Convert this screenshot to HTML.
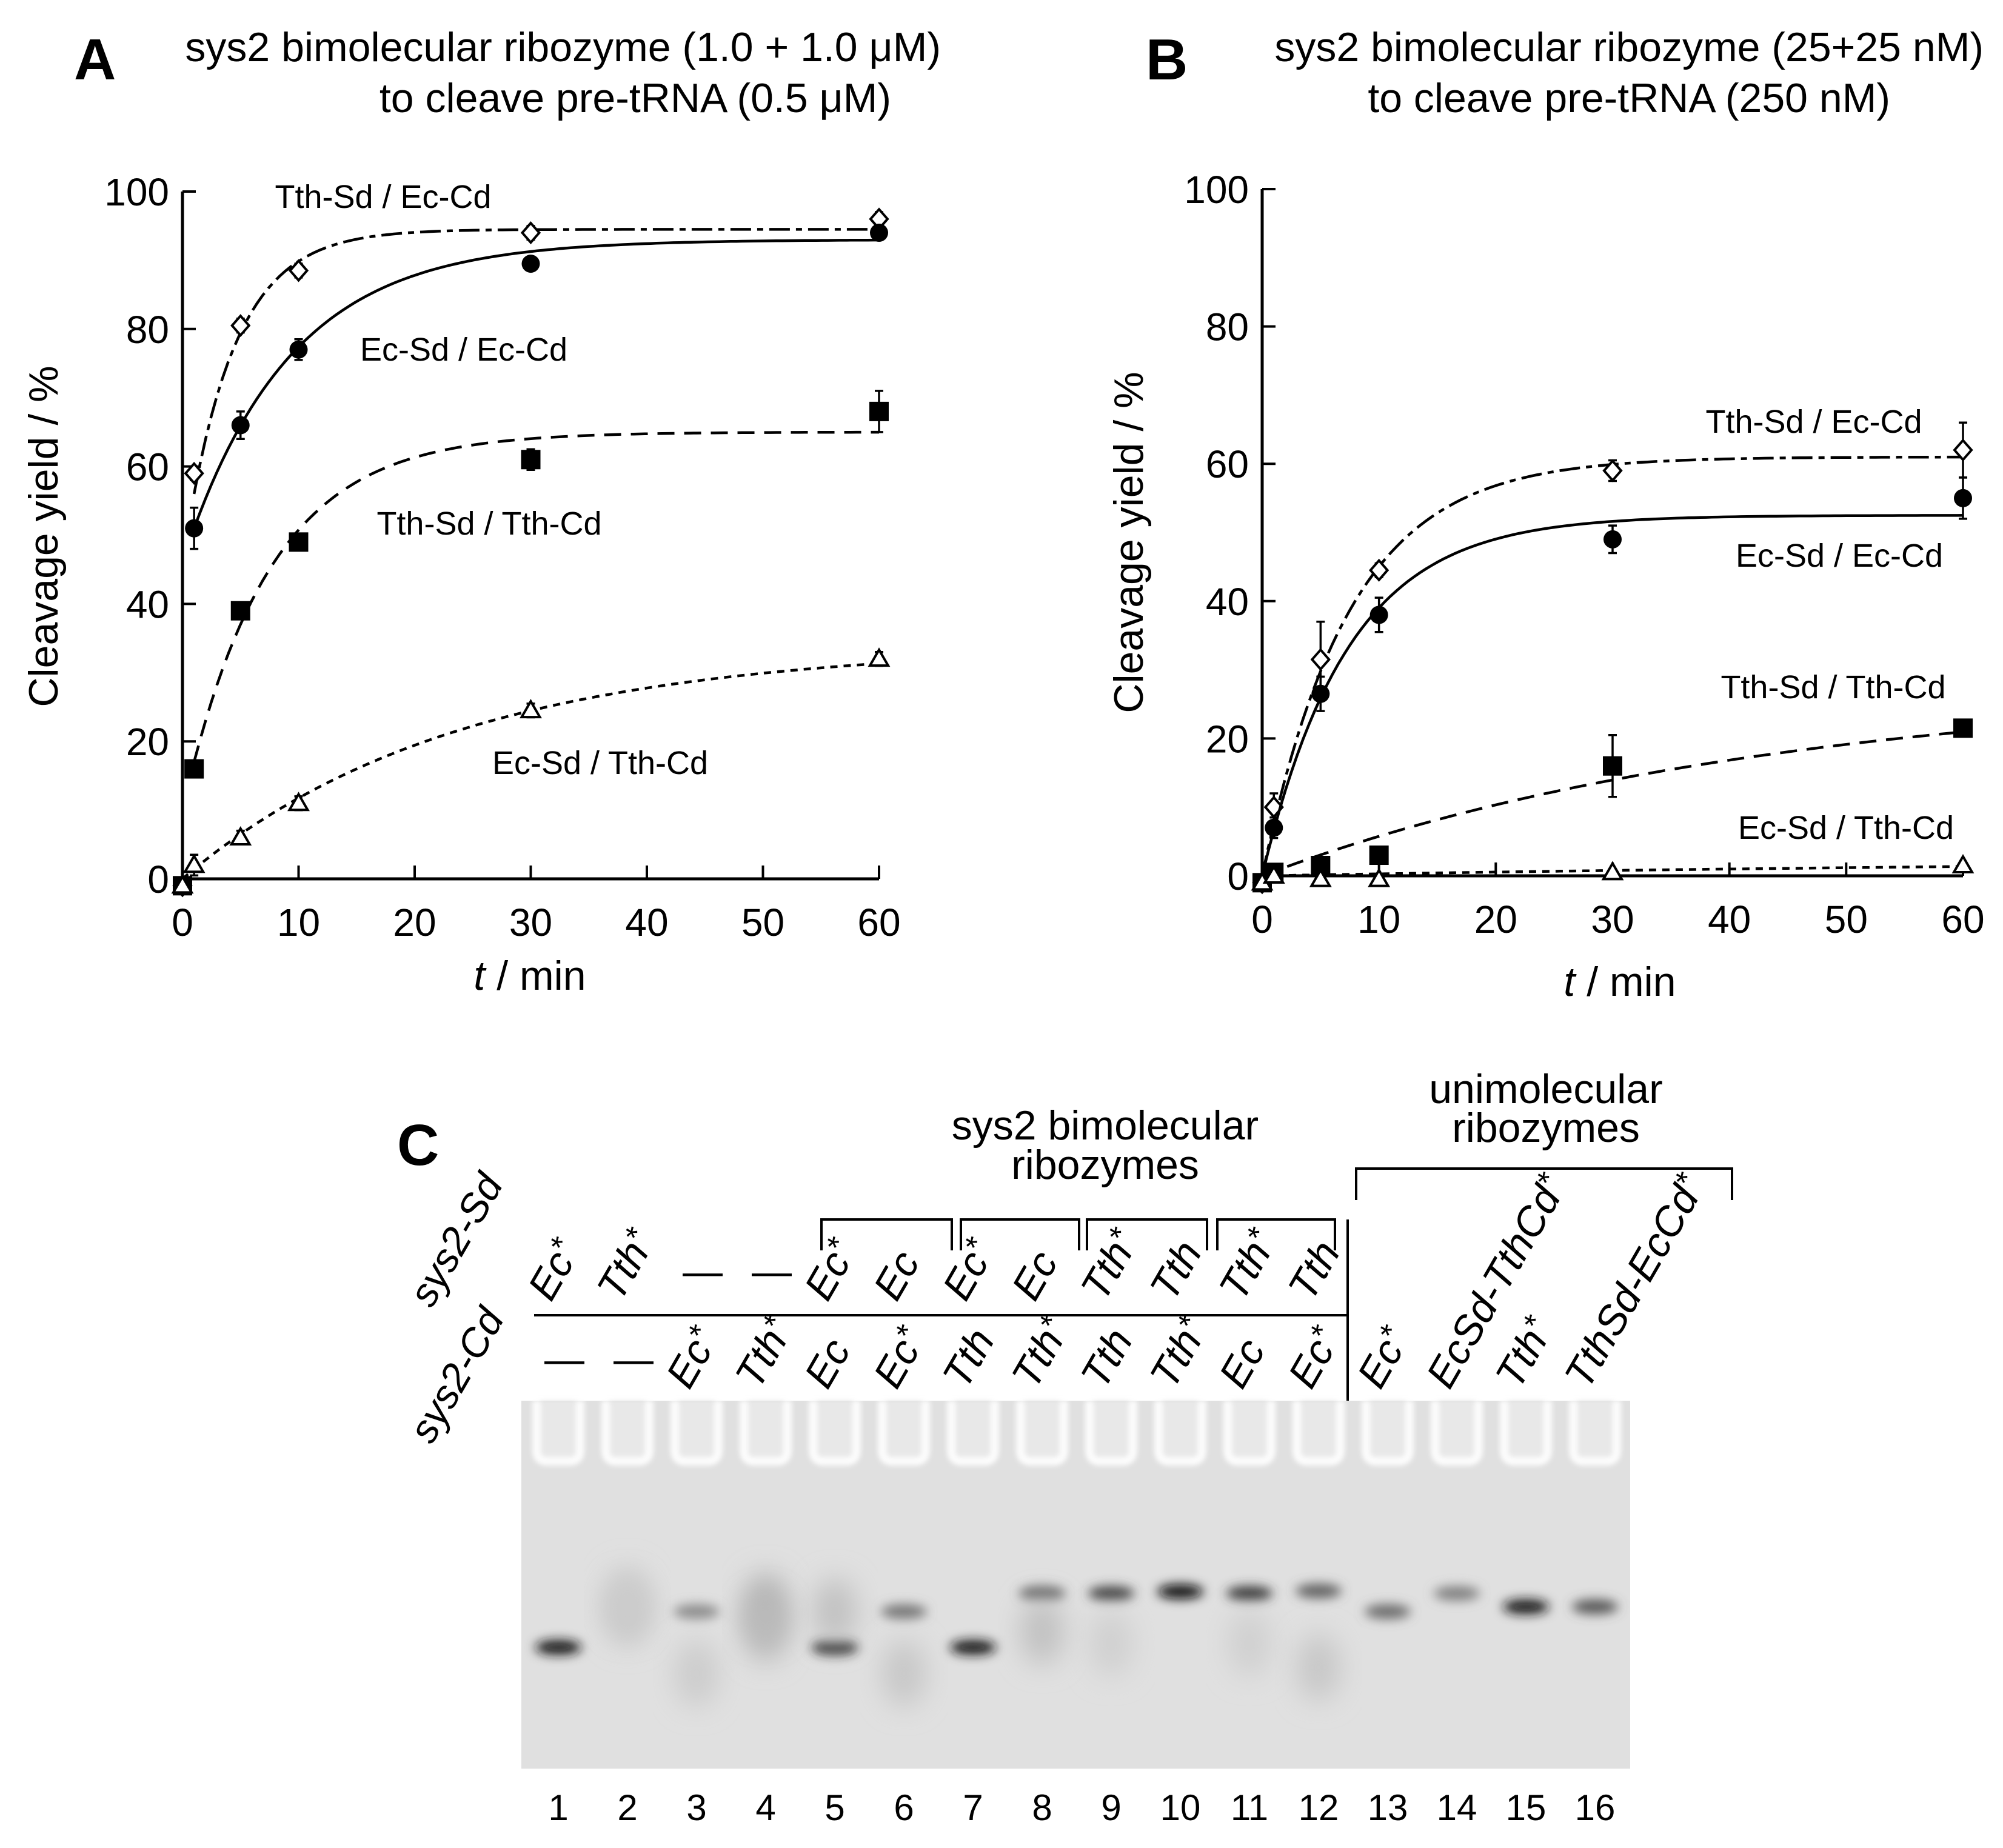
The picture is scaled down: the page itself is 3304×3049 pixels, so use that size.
<!DOCTYPE html>
<html><head><meta charset="utf-8"><style>
html,body{margin:0;padding:0;background:#fff}
svg{display:block;font-family:"Liberation Sans",Arial,sans-serif}
</style></head><body>
<svg id="fig" width="3304" height="3049" viewBox="0 0 3304 3049" xmlns="http://www.w3.org/2000/svg">
<defs>
<filter id="blur" x="-50%" y="-200%" width="200%" height="500%"><feGaussianBlur stdDeviation="9"/></filter>
<filter id="blur2" x="-50%" y="-200%" width="200%" height="500%"><feGaussianBlur stdDeviation="22"/></filter>
<filter id="blur3" x="-20%" y="-20%" width="140%" height="140%"><feGaussianBlur stdDeviation="4"/></filter>
</defs>
<g id="panelA"></g>
<g id="panelB"></g>
<g id="panelC"></g>
</svg>
<script>
const NS='http://www.w3.org/2000/svg';
// ---- chart data ----
const times=[1,5,10,30,60];
const xTicks=[0,10,20,30,40,50,60];
const yTicks=[0,20,40,60,80,100];
const seriesNames=['Tth-Sd / Ec-Cd','Ec-Sd / Ec-Cd','Tth-Sd / Tth-Cd','Ec-Sd / Tth-Cd'];
// Panel A values
const aDiamond=[59,80.5,88.5,94,96];
const aCircle=[51,66,77,89.5,94];
const aSquare=[16,39,49,61,68];
const aTriangle=[2,6,11,24.5,32];
const aErr=[[1,1,1,1,1],[3,2,1.5,1,1],[1,1,1,1.5,3],[1.5,1,1,1,1]];
// fit params [t0, y0, plateau, k]
const aFitDiamond=[1,56,94.5,0.235];
const aFitCircle=[1,51,93,0.11];
const aFitSquare=[1,17,65,0.135];
const aFitTriangle=[0,0,34,0.0424];
// Panel B values
const bDiamond=[10,31.5,44.5,59,62];
const bCircle=[7,26.5,38,49,55];
const bSquare=[0.5,1.5,3,16,21.5];
const bTriangle=[0,-0.5,-0.5,0.5,1.5];
const bErr=[[2,5.5,1,1.5,4],[1.5,2.5,2.5,2,3],[0.5,0.5,0.5,4.5,0.5],[0.3,0.3,0.3,0.3,0.3]];
const bFitDiamond=[0,0,61,0.134];
const bFitCircle=[0,0,52.5,0.136];
const bFitSquare=[0,0,28,0.023];
const bFitTriangle=[0,0,3,0.01];
// gel data
const laneNumbers=['1','2','3','4','5','6','7','8','9','10','11','12','13','14','15','16'];
const sdLabels=['Ec*','Tth*','—','—','Ec*','Ec','Ec*','Ec','Tth*','Tth','Tth*','Tth','','','',''];
const cdLabels=['—','—','Ec*','Tth*','Ec','Ec*','Tth','Tth*','Tth','Tth*','Ec','Ec*','Ec*','EcSd-TthCd*','Tth*','TthSd-EcCd*'];
const bandLane=[1,2,3,3,4,5,5,6,6,7,8,8,9,9,10,11,11,12,12,13,14,15,16,2,4];
const bandPos=[407,348,348,450,340,407,348,348,450,407,318,380,318,400,315,318,400,314,440,348,318,340,340,330,375];
const bandInt=[0.95,0.12,0.4,0.1,0.22,0.9,0.15,0.5,0.12,0.95,0.6,0.15,0.75,0.08,1.0,0.8,0.08,0.6,0.12,0.55,0.45,0.95,0.65,0.1,0.18];
const bandKind=[0,1,0,1,1,0,1,0,1,0,0,1,0,1,0,0,1,0,1,0,0,0,0,1,1];

function el(tag,attrs,parent,text){const e=document.createElementNS(NS,tag);for(const k in attrs)e.setAttribute(k,attrs[k]);if(text!==undefined)e.textContent=text;parent.appendChild(e);return e;}

function drawPanel(g,cfg){
  const X=t=>cfg.x0+(t/60)*(cfg.x60-cfg.x0);
  const Y=v=>cfg.y0-(v/100)*(cfg.y0-cfg.y100);
  let e;
  e=el('text',{x:cfg.letterX,y:131,'font-size':96,'font-weight':'bold'},g,cfg.letter);
  
  
  e=el('text',{x:cfg.t1x,y:101,'font-size':68,'text-anchor':'end'},g,cfg.title1);
  
  
  e=el('text',{x:cfg.t2x,y:185,'font-size':68,'text-anchor':'end'},g,cfg.title2);
  
  
  e=el('line',{x1:cfg.x0,y1:Y(100),x2:cfg.x0,y2:cfg.y0,stroke:'#000','stroke-width':5},g);
  
  
  e=el('line',{x1:cfg.x0,y1:cfg.y0,x2:X(60),y2:cfg.y0,stroke:'#000','stroke-width':5},g);
  
  
  yTicks.forEach(v=>{
    e=el('line',{x1:cfg.x0,y1:Y(v),x2:cfg.x0+22,y2:Y(v),stroke:'#000','stroke-width':4},g);
    
    
    e=el('text',{x:cfg.x0-22,y:Y(v)+23,'font-size':64,'text-anchor':'end'},g,String(v));
    
    
  });
  xTicks.forEach(v=>{
    e=el('line',{x1:X(v),y1:cfg.y0,x2:X(v),y2:cfg.y0-22,stroke:'#000','stroke-width':4},g);
    
    
    e=el('text',{x:X(v),y:cfg.y0+94,'font-size':64,'text-anchor':'middle'},g,String(v));
    
    
  });
  e=el('text',{x:cfg.ylx,y:cfg.yly,'font-size':68,'text-anchor':'middle',transform:`rotate(-90 ${cfg.ylx} ${cfg.yly})`},g,'Cleavage yield / %');
  
  
  e=el('text',{x:cfg.xlx,y:cfg.xly,'font-size':68,'text-anchor':'middle'},g);
  
  
  el('tspan',{'font-style':'italic'},e,'t');
  el('tspan',{},e,' / min');
  const dashes=['34 10 10 10','','28 16','12 10'];
  const kinds=['diamond','circle','square','triangle'];
  cfg.series.forEach((vals,si)=>{
    const fit=cfg.fits[si];
    let d='';
    for(let i=0;i<=120;i++){const t=fit[0]+(60-fit[0])*i/120;const v=fit[1]+(fit[2]-fit[1])*(1-Math.exp(-fit[3]*(t-fit[0])));d+=(i?'L':'M')+X(t).toFixed(1)+' '+Y(v).toFixed(1);}
    e=el('path',{d:d,fill:'none',stroke:'#000','stroke-width':4.5,'stroke-dasharray':dashes[si]},g);
    
    
    const allT=[0].concat(times), allV=[-1].concat(vals);
    allT.forEach((t,i)=>{
      const cx=X(t),cy=Y(allV[i]);
      if(i>0){const er=cfg.errs[si][i-1]*(cfg.y0-cfg.y100)/100;
        e=el('path',{d:`M${cx} ${cy-er}V${cy+er}M${cx-7} ${cy-er}H${cx+7}M${cx-7} ${cy+er}H${cx+7}`,stroke:'#000','stroke-width':3.5},g);
        
        }
      const k=kinds[si];let m;
      if(k==='diamond')m=el('path',{d:`M${cx} ${cy-16}L${cx+14} ${cy}L${cx} ${cy+16}L${cx-14} ${cy}Z`,fill:'#fff',stroke:'#000','stroke-width':4},g);
      else if(k==='circle')m=el('circle',{cx:cx,cy:cy,r:15,fill:'#000'},g);
      else if(k==='square')m=el('rect',{x:cx-16,y:cy-16,width:32,height:32,fill:'#000'},g);
      else m=el('path',{d:`M${cx} ${cy-15}L${cx+15} ${cy+11}L${cx-15} ${cy+11}Z`,fill:'#fff',stroke:'#000','stroke-width':4},g);
      
      
    });
    e=el('text',{x:cfg.labels[si][0],y:cfg.labels[si][1],'font-size':54,'text-anchor':'middle'},g,seriesNames[si]);
    
    
  });
}
drawPanel(document.getElementById('panelA'),{x0:301,x60:1450,y0:1450,y100:316,letter:'A',letterX:122,
  title1:'sys2 bimolecular ribozyme (1.0 + 1.0 μM)',t1x:1552,title2:'to cleave pre-tRNA (0.5 μM)',t2x:1470,
  ylx:95,yly:885,xlx:874,xly:1633,
  series:[aDiamond,aCircle,aSquare,aTriangle],errs:aErr,fits:[aFitDiamond,aFitCircle,aFitSquare,aFitTriangle],
  labels:[[632,343],[765,595],[807,882],[990,1277]]});
drawPanel(document.getElementById('panelB'),{x0:2082,x60:3238,y0:1445,y100:312,letter:'B',letterX:1890,
  title1:'sys2 bimolecular ribozyme (25+25 nM)',t1x:3272,title2:'to cleave pre-tRNA (250 nM)',t2x:3118,
  ylx:1885,yly:895,xlx:2672,xly:1643,
  series:[bDiamond,bCircle,bSquare,bTriangle],errs:bErr,fits:[bFitDiamond,bFitCircle,bFitSquare,bFitTriangle],
  labels:[[2992,714],[3034,935],[3024,1152],[3045,1384]]});

// ---- Panel C ----
(function(){
  const g=document.getElementById('panelC');
  const LX=i=>921+114*i;
  const gx0=860,gx1=2689,gy0=2311,gy1=2918;
  let e;
  e=el('text',{x:655,y:1922,'font-size':96,'font-weight':'bold'},g,'C');
  
  
  [['sys2 bimolecular',1823,1880],['ribozymes',1823,1945],['unimolecular',2550,1820],['ribozymes',2550,1884]].forEach(a=>{
    e=el('text',{x:a[1],y:a[2],'font-size':68,'text-anchor':'middle'},g,a[0]);
    
    
  });
  [[1355,1570],[1585,1780],[1793,1991],[2008,2202]].forEach(b=>{
    e=el('path',{d:`M${b[0]} 2063V2012H${b[1]}V2063`,fill:'none',stroke:'#000','stroke-width':4},g);
    
    
  });
  e=el('path',{d:'M2237 1980V1928H2857V1980',fill:'none',stroke:'#000','stroke-width':4},g);
  
  
  e=el('line',{x1:881,y1:2170,x2:2223,y2:2170,stroke:'#000','stroke-width':4},g);
  
  
  e=el('line',{x1:2223,y1:2012,x2:2223,y2:2311,stroke:'#000','stroke-width':4},g);
  
  
  e=el('text',{x:712,y:2160,'font-size':66,'font-style':'italic',transform:'rotate(-60 712 2160)'},g,'sys2-Sd');
  
  
  e=el('text',{x:712,y:2385,'font-size':66,'font-style':'italic',transform:'rotate(-60 712 2385)'},g,'sys2-Cd');
  
  
  function lab(txt,x,y,name){
    if(txt==='')return;
    if(txt==='—'){e=el('text',{x:x,y:y-30,'font-size':66,'text-anchor':'middle'},g,'—');}
    else{e=el('text',{x:x-22,y:y,'font-size':68,'font-style':'italic',transform:`rotate(-60 ${x-22} ${y})`},g);
      const star=txt.endsWith('*');el('tspan',{},e,star?txt.slice(0,-1):txt);if(star)el('tspan',{dy:-16,'font-size':52},e,'*');}
    
    
  }
  sdLabels.forEach((t,i)=>lab(t,LX(i)+10,2150,'sd-lane-label'));
  cdLabels.forEach((t,i)=>lab(t,LX(i)+10,2295,'cd-lane-label'));
  e=el('rect',{x:gx0,y:gy0,width:gx1-gx0,height:gy1-gy0,fill:'#e0e0e0'},g);
  
  
  laneNumbers.forEach((n,i)=>{
    e=el('path',{d:`M${LX(i)-36} ${gy0}V${gy0+82}Q${LX(i)-36} ${gy0+100} ${LX(i)-18} ${gy0+100}H${LX(i)+18}Q${LX(i)+36} ${gy0+100} ${LX(i)+36} ${gy0+82}V${gy0}`,fill:'#e8e8e8',stroke:'#fcfcfc','stroke-width':14,filter:'url(#blur3)'},g);
    
    
    e=el('text',{x:LX(i),y:3003,'font-size':60,'text-anchor':'middle'},g,n);
    
    
  });
  bandLane.forEach((ln,i)=>{
    const sharp=bandKind[i]===0;
    const c=Math.round(225-bandInt[i]*215);
    e=el('ellipse',{cx:LX(ln-1),cy:gy0+bandPos[i],rx:sharp?38:36,ry:sharp?12:55,fill:`rgb(${c},${c},${c})`,filter:sharp?'url(#blur)':'url(#blur2)'},g);
    
    
  });
})();
</script>
</body></html>
